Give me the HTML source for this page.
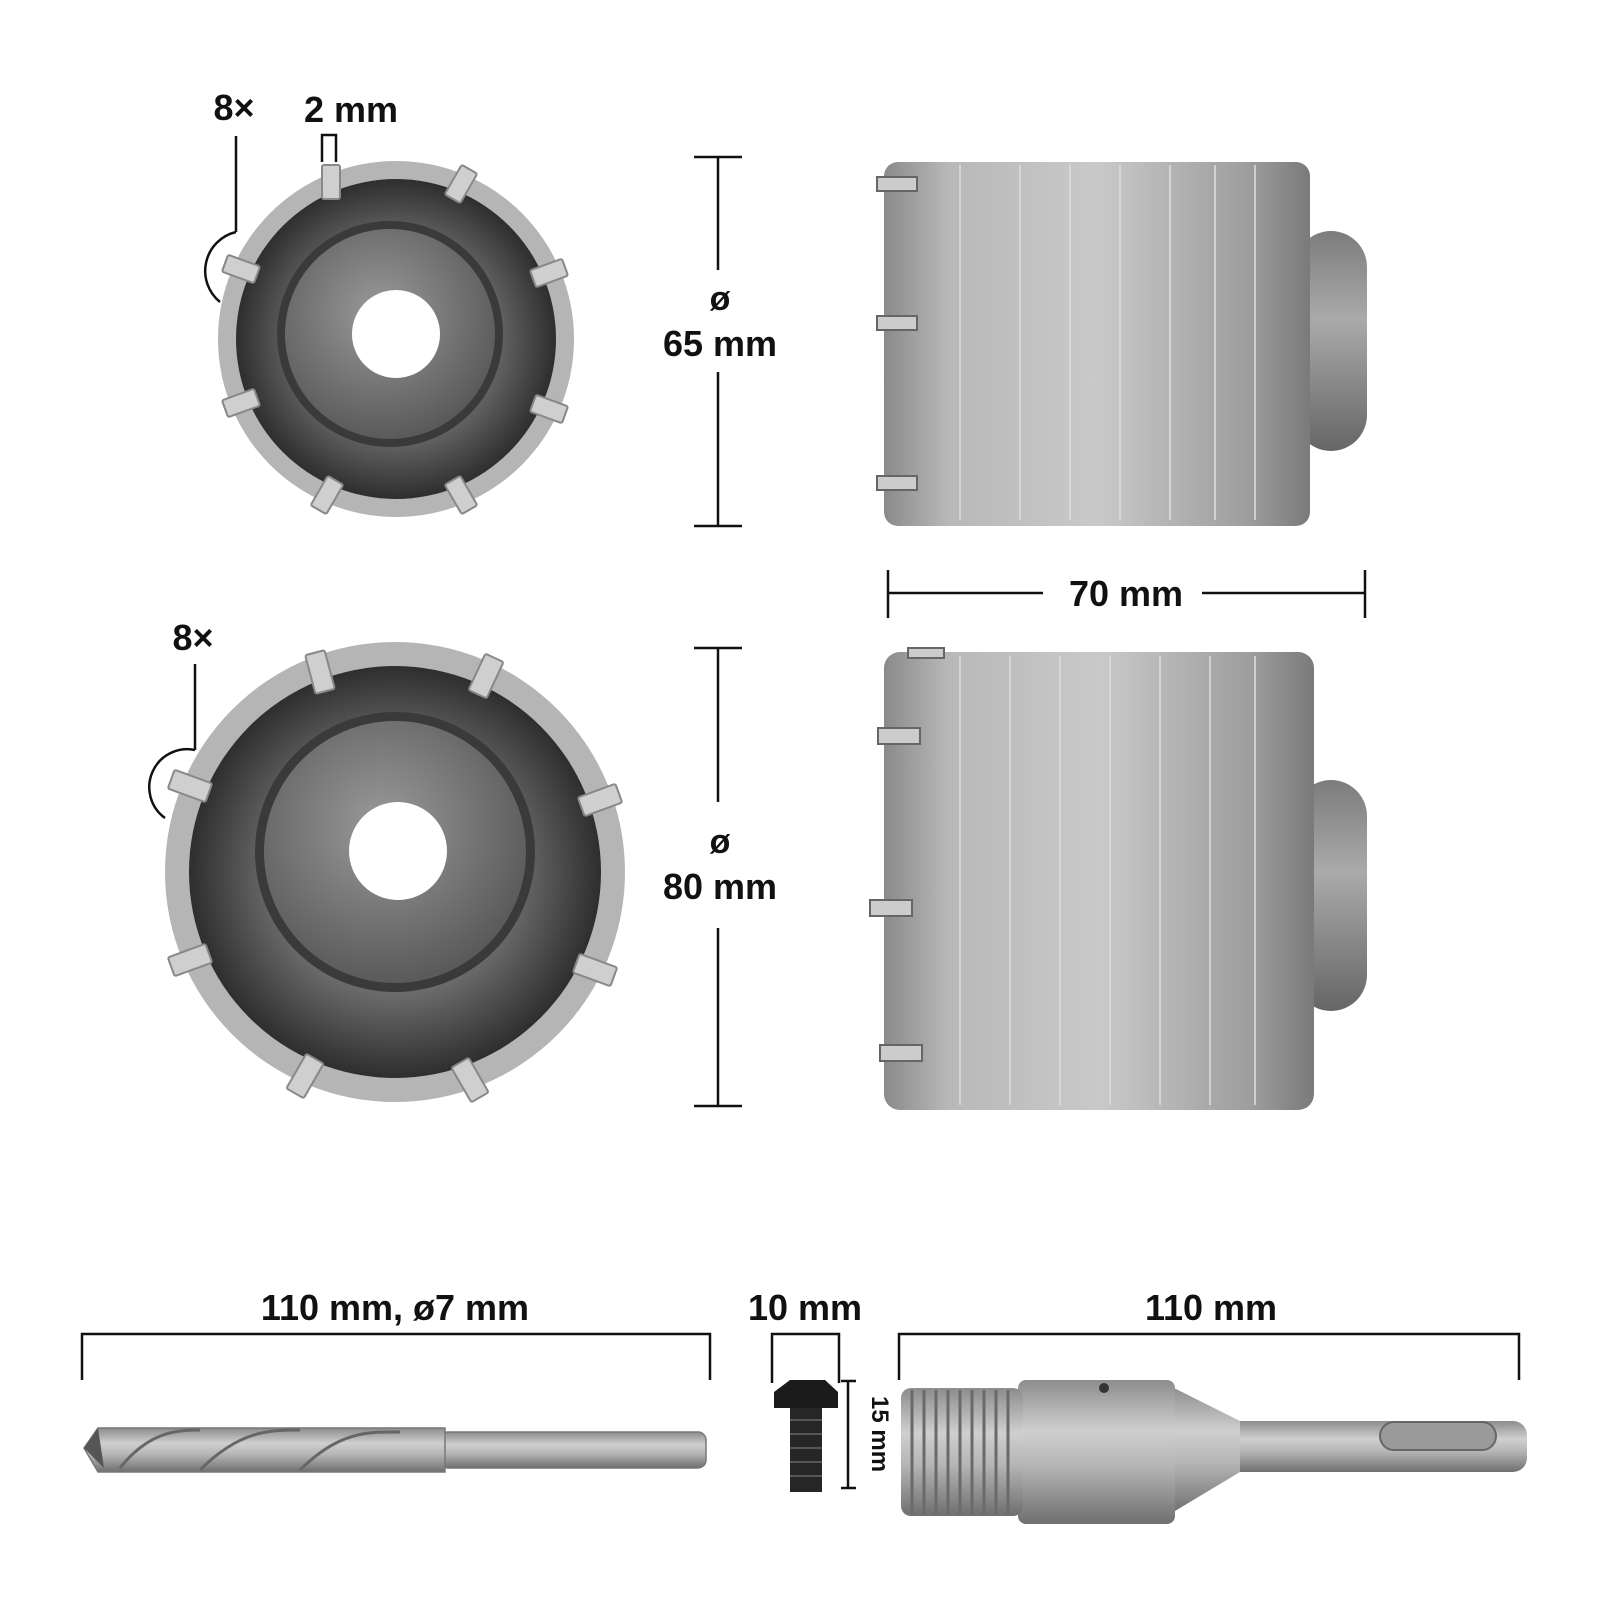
<!DOCTYPE html>
<html><head><meta charset="utf-8"><style>
html,body{margin:0;padding:0;background:#fff}
svg{display:block}
text{font-family:"Liberation Sans",sans-serif;font-weight:bold;fill:#111}
</style></head><body>
<svg width="1600" height="1600" viewBox="0 0 1600 1600" xmlns="http://www.w3.org/2000/svg">
<defs>
<linearGradient id="cyl" x1="0" y1="0" x2="1" y2="0">
<stop offset="0" stop-color="#8a8a8a"/><stop offset="0.15" stop-color="#b8b8b8"/><stop offset="0.5" stop-color="#c9c9c9"/><stop offset="0.85" stop-color="#9e9e9e"/><stop offset="1" stop-color="#7a7a7a"/></linearGradient>
<linearGradient id="cylv" x1="0" y1="0" x2="0" y2="1">
<stop offset="0" stop-color="#8c8c8c"/><stop offset="0.35" stop-color="#cfcfcf"/><stop offset="0.6" stop-color="#b5b5b5"/><stop offset="1" stop-color="#6f6f6f"/></linearGradient>
<linearGradient id="boss" x1="0" y1="0" x2="0" y2="1">
<stop offset="0" stop-color="#7c7c7c"/><stop offset="0.4" stop-color="#aaa"/><stop offset="1" stop-color="#666"/></linearGradient>
<radialGradient id="inner" cx="0.5" cy="0.5" r="0.5">
<stop offset="0.6" stop-color="#6a6a6a"/><stop offset="1" stop-color="#2e2e2e"/></radialGradient>
<radialGradient id="plate" cx="0.45" cy="0.4" r="0.6">
<stop offset="0" stop-color="#9a9a9a"/><stop offset="1" stop-color="#5a5a5a"/></radialGradient>
</defs>

<!-- top front view -->
<g>
<circle cx="396" cy="339" r="178" fill="#b5b5b5"/>
<circle cx="396" cy="339" r="160" fill="url(#inner)"/>
<circle cx="390" cy="334" r="113" fill="#3a3a3a"/>
<circle cx="390" cy="334" r="105" fill="url(#plate)"/>
<circle cx="396" cy="334" r="44" fill="#fff"/>
<g fill="#cfcfcf" stroke="#888" stroke-width="2">
<rect x="322" y="165" width="18" height="34" rx="2"/>
<rect x="452" y="167" width="18" height="34" rx="2" transform="rotate(30 461 184)"/>
<rect x="540" y="256" width="18" height="34" rx="2" transform="rotate(70 549 273)"/>
<rect x="540" y="392" width="18" height="34" rx="2" transform="rotate(110 549 409)"/>
<rect x="452" y="478" width="18" height="34" rx="2" transform="rotate(150 461 495)"/>
<rect x="318" y="478" width="18" height="34" rx="2" transform="rotate(-150 327 495)"/>
<rect x="232" y="386" width="18" height="34" rx="2" transform="rotate(-110 241 403)"/>
<rect x="232" y="252" width="18" height="34" rx="2" transform="rotate(-70 241 269)"/>
</g>
</g>
<text x="234" y="120" font-size="36" text-anchor="middle">8×</text>
<text x="351" y="122" font-size="36" text-anchor="middle">2 mm</text>
<path d="M236 136 V232" stroke="#111" stroke-width="2.5" fill="none"/>
<path d="M236 232 A40 40 0 0 0 220 302" stroke="#111" stroke-width="2.5" fill="none"/>
<path d="M322 162 V135 H336 V162" stroke="#111" stroke-width="2.5" fill="none"/>

<!-- top dim -->
<g stroke="#111" stroke-width="2.5">
<line x1="718" y1="157" x2="718" y2="270"/><line x1="718" y1="372" x2="718" y2="526"/>
<line x1="694" y1="157" x2="742" y2="157"/><line x1="694" y1="526" x2="742" y2="526"/>
</g>
<text x="720" y="310" font-size="34" text-anchor="middle">ø</text>
<text x="720" y="356" font-size="36" text-anchor="middle">65 mm</text>

<!-- top side view -->
<rect x="1295" y="231" width="72" height="220" rx="36" fill="url(#boss)"/>
<rect x="884" y="162" width="426" height="364" rx="14" fill="url(#cyl)"/>
<g stroke="#dcdcdc" stroke-width="2" opacity="0.8">
<line x1="960" y1="165" x2="960" y2="520"/><line x1="1020" y1="165" x2="1020" y2="520"/><line x1="1070" y1="165" x2="1070" y2="520"/>
<line x1="1120" y1="165" x2="1120" y2="520"/><line x1="1170" y1="165" x2="1170" y2="520"/><line x1="1215" y1="165" x2="1215" y2="520"/><line x1="1255" y1="165" x2="1255" y2="520"/>
</g>
<g fill="#ccc" stroke="#666" stroke-width="2">
<rect x="877" y="177" width="40" height="14"/><rect x="877" y="316" width="40" height="14"/><rect x="877" y="476" width="40" height="14"/>
</g>
<g stroke="#111" stroke-width="2.5">
<line x1="888" y1="593" x2="1043" y2="593"/><line x1="1202" y1="593" x2="1365" y2="593"/>
<line x1="888" y1="570" x2="888" y2="618"/><line x1="1365" y1="570" x2="1365" y2="618"/>
</g>
<text x="1126" y="606" font-size="36" text-anchor="middle">70 mm</text>

<!-- bottom front view -->
<g>
<circle cx="395" cy="872" r="230" fill="#b5b5b5"/>
<circle cx="395" cy="872" r="206" fill="url(#inner)"/>
<circle cx="395" cy="852" r="140" fill="#3a3a3a"/>
<circle cx="395" cy="852" r="131" fill="url(#plate)"/>
<circle cx="398" cy="851" r="49" fill="#fff"/>
<g fill="#cfcfcf" stroke="#888" stroke-width="2">
<rect x="310" y="652" width="20" height="40" rx="2" transform="rotate(-15 320 672)"/>
<rect x="476" y="656" width="20" height="40" rx="2" transform="rotate(25 486 676)"/>
<rect x="590" y="780" width="20" height="40" rx="2" transform="rotate(70 600 800)"/>
<rect x="585" y="950" width="20" height="40" rx="2" transform="rotate(110 595 970)"/>
<rect x="460" y="1060" width="20" height="40" rx="2" transform="rotate(150 470 1080)"/>
<rect x="295" y="1056" width="20" height="40" rx="2" transform="rotate(-150 305 1076)"/>
<rect x="180" y="940" width="20" height="40" rx="2" transform="rotate(-110 190 960)"/>
<rect x="180" y="766" width="20" height="40" rx="2" transform="rotate(-70 190 786)"/>
</g>
</g>
<text x="193" y="650" font-size="36" text-anchor="middle">8×</text>
<path d="M195 664 V750" stroke="#111" stroke-width="2.5" fill="none"/>
<path d="M195 750 A38 38 0 0 0 165 818" stroke="#111" stroke-width="2.5" fill="none"/>

<!-- bottom dim -->
<g stroke="#111" stroke-width="2.5">
<line x1="718" y1="648" x2="718" y2="802"/><line x1="718" y1="928" x2="718" y2="1106"/>
<line x1="694" y1="648" x2="742" y2="648"/><line x1="694" y1="1106" x2="742" y2="1106"/>
</g>
<text x="720" y="853" font-size="34" text-anchor="middle">ø</text>
<text x="720" y="899" font-size="36" text-anchor="middle">80 mm</text>

<!-- bottom side view -->
<rect x="1295" y="780" width="72" height="231" rx="36" fill="url(#boss)"/>
<rect x="884" y="652" width="430" height="458" rx="16" fill="url(#cyl)"/>
<g stroke="#dcdcdc" stroke-width="2" opacity="0.8">
<line x1="960" y1="656" x2="960" y2="1105"/><line x1="1010" y1="656" x2="1010" y2="1105"/><line x1="1060" y1="656" x2="1060" y2="1105"/>
<line x1="1110" y1="656" x2="1110" y2="1105"/><line x1="1160" y1="656" x2="1160" y2="1105"/><line x1="1210" y1="656" x2="1210" y2="1105"/><line x1="1255" y1="656" x2="1255" y2="1105"/>
</g>
<g fill="#ccc" stroke="#666" stroke-width="2">
<rect x="878" y="728" width="42" height="16"/><rect x="870" y="900" width="42" height="16"/><rect x="880" y="1045" width="42" height="16"/><rect x="908" y="648" width="36" height="10"/>
</g>

<!-- bottom row labels -->
<text x="395" y="1320" font-size="36" text-anchor="middle">110 mm, ø7 mm</text>
<text x="805" y="1320" font-size="36" text-anchor="middle">10 mm</text>
<text x="1211" y="1320" font-size="36" text-anchor="middle">110 mm</text>
<g stroke="#111" stroke-width="2.5" fill="none">
<path d="M82 1380 V1334 H710 V1380"/>
<path d="M772 1383 V1334 H839 V1383"/>
<path d="M899 1380 V1334 H1519 V1380"/>
<path d="M841 1381 H856 M848 1381 V1488 M841 1488 H856"/>
</g>
<text x="0" y="0" font-size="24" text-anchor="middle" transform="translate(872 1434) rotate(90)">15 mm</text>

<!-- drill bit -->
<rect x="440" y="1432" width="266" height="36" rx="8" fill="url(#cylv)" stroke="#777" stroke-width="1.5"/>
<path d="M84 1448 L98 1428 H445 V1472 H98 Z" fill="url(#cylv)" stroke="#777" stroke-width="1.5"/>
<g stroke="#666" stroke-width="3" fill="none">
<path d="M120 1468 C150 1430 180 1430 200 1430"/><path d="M200 1470 C240 1430 270 1430 300 1430"/><path d="M300 1470 C340 1430 370 1432 400 1432"/>
</g>
<path d="M84 1448 L98 1428 L104 1468 Z" fill="#555"/>

<!-- screw -->
<path d="M774 1392 L790 1380 H825 L838 1392 V1408 H774 Z" fill="#1b1b1b"/>
<rect x="790" y="1408" width="32" height="84" fill="#262626"/>
<g stroke="#555" stroke-width="2"><line x1="790" y1="1420" x2="822" y2="1420"/><line x1="790" y1="1434" x2="822" y2="1434"/><line x1="790" y1="1448" x2="822" y2="1448"/><line x1="790" y1="1462" x2="822" y2="1462"/><line x1="790" y1="1476" x2="822" y2="1476"/></g>

<!-- adapter -->
<rect x="1180" y="1421" width="347" height="51" rx="14" fill="url(#cylv)"/>
<path d="M1170 1386 L1240 1421 V1472 L1170 1514 Z" fill="url(#cylv)"/>
<rect x="1018" y="1380" width="157" height="144" rx="8" fill="url(#cylv)"/>
<rect x="901" y="1388" width="122" height="128" rx="10" fill="url(#cylv)"/>
<g stroke="#6a6a6a" stroke-width="3">
<line x1="912" y1="1390" x2="912" y2="1514"/><line x1="924" y1="1390" x2="924" y2="1514"/><line x1="936" y1="1390" x2="936" y2="1514"/><line x1="948" y1="1390" x2="948" y2="1514"/><line x1="960" y1="1390" x2="960" y2="1514"/><line x1="972" y1="1390" x2="972" y2="1514"/><line x1="984" y1="1390" x2="984" y2="1514"/><line x1="996" y1="1390" x2="996" y2="1514"/><line x1="1008" y1="1390" x2="1008" y2="1514"/>
</g>
<circle cx="1104" cy="1388" r="5" fill="#333"/>
<rect x="1380" y="1422" width="116" height="28" rx="14" fill="#9a9a9a" stroke="#666" stroke-width="2"/>
</svg>
</body></html>
